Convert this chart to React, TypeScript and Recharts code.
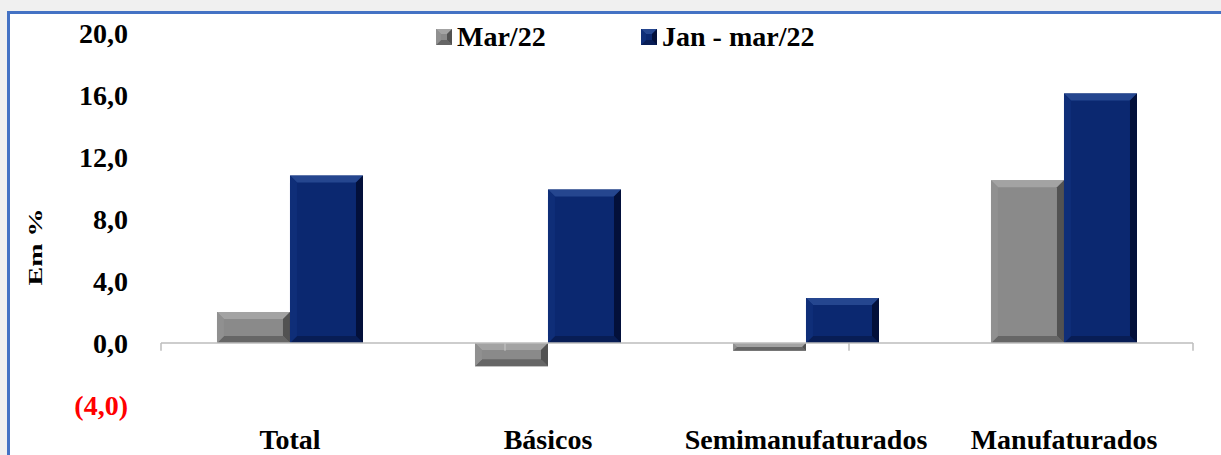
import { BarChart, Bar, XAxis, YAxis, Legend, ReferenceLine } from 'recharts';

const categories = ['Total', 'Básicos', 'Semimanufaturados', 'Manufaturados'];
const mar22 = [2.0, -1.5, -0.5, 10.5];
const janMar22 = [10.8, 9.9, 2.9, 16.1];
const yTicks = [-4, 0, 4, 8, 12, 16, 20];
const boundaries = [0, 1, 2, 3, 4];

const seriesNames = ['Mar/22', 'Jan - mar/22'];

const data = categories.map((name, i) => ({ name, mar: mar22[i], jan: janMar22[i] }));

const FONT = "'Liberation Serif', 'Times New Roman', serif";

const palettes: Record<string, { face: string; top: string; left: string; right: string; bottom: string }> = {
  gray: { face: '#8a8a8a', top: '#a3a3a3', left: '#909090', right: '#525252', bottom: '#666666' },
  blue: { face: '#0b2870', top: '#25468f', left: '#0f2e78', right: '#03103a', bottom: '#081d55' },
};

function bevel(x: number, y: number, w: number, h: number, p: typeof palettes.gray, size = 7) {
  const top = Math.min(y, y + h);
  const hh = Math.abs(h);
  const bot = top + hh;
  const b = Math.max(0, Math.min(size, hh / 2, w / 2));
  return (
    <g>
      <rect x={x} y={top} width={w} height={hh} fill={p.face} />
      <polygon points={`${x},${top} ${x + w},${top} ${x + w - b},${top + b} ${x + b},${top + b}`} fill={p.top} />
      <polygon points={`${x},${bot} ${x + w},${bot} ${x + w - b},${bot - b} ${x + b},${bot - b}`} fill={p.bottom} />
      <polygon points={`${x},${top} ${x + b},${top + b} ${x + b},${bot - b} ${x},${bot}`} fill={p.left} />
      <polygon points={`${x + w},${top} ${x + w - b},${top + b} ${x + w - b},${bot - b} ${x + w},${bot}`} fill={p.right} />
    </g>
  );
}

const makeShape = (key: string) => (props: any) => {
  const { x, y, width, height } = props;
  if (width == null || height == null) return null;
  return bevel(x, y, width, height, palettes[key]);
};

const fmt = (v: number) => {
  const s = Math.abs(v).toFixed(1).replace('.', ',');
  return v < 0 ? `(${s})` : s;
};

const YTick = (props: any) => {
  const { x, y, payload } = props;
  const v = payload.value as number;
  return (
    <text x={x} y={y} dy="0.355em" textAnchor="end" fontFamily={FONT} fontWeight="bold" fontSize={28}
      fill={v < 0 ? '#ff0000' : '#000'}>
      {fmt(v)}
    </text>
  );
};

const LegendContent = () => (
  <div style={{ display: 'flex', fontFamily: FONT, fontWeight: 'bold', fontSize: 28, lineHeight: '28px', color: '#000' }}>
    {seriesNames.map((n, i) => (
      <div key={n} style={{ display: 'flex', alignItems: 'center', width: i === 0 ? 205 : 'auto' }}>
        <svg width={16} height={16} style={{ marginRight: 5 }}>
          {bevel(0, 0, 16, 16, palettes[i === 0 ? 'gray' : 'blue'], 5)}
        </svg>
        <span>{n}</span>
      </div>
    ))}
  </div>
);

export default function App() {
  return (
    <div style={{ position: 'fixed', inset: 0, background: '#f0f0f0', overflow: 'hidden' }}>
      <div style={{ position: 'absolute', left: 7, top: 11, width: 1300, height: 500, background: '#fff',
        borderLeft: '3px solid #4472c4', borderTop: '3px solid #4472c4' }} />
      <div style={{ position: 'absolute', left: 0, top: 0 }}>
        <BarChart width={1221} height={455} data={data} margin={{ top: 33, right: 28, bottom: 0, left: 0 }}
          barCategoryGap="21.7%" barGap={0}>
          <XAxis dataKey="name" axisLine={false} tickLine={false} tickSize={0} tickMargin={24} height={50}
            interval={0}
            tick={{ fontFamily: FONT, fontWeight: 'bold', fontSize: 28, fill: '#000' }} />
          <XAxis xAxisId="b" type="number" domain={[0, 4]} ticks={boundaries} hide />
          <YAxis domain={[-4, 20]} ticks={yTicks} width={161} axisLine={false} tickLine={false}
            tickSize={0} tickMargin={33} tick={<YTick />} interval={0}
            label={{
              content: () => (
                <text x={0} y={0} transform="translate(42,247) rotate(-90)" textAnchor="middle"
                  fontFamily={FONT} fontWeight="bold" fontSize={18} textLength={77} lengthAdjust="spacingAndGlyphs">
                  Em %
                </text>
              ),
            }} />
          <Legend verticalAlign="middle" layout="horizontal" content={<LegendContent />}
            wrapperStyle={{ top: 23, left: 436, width: 'auto' }} />
          <Bar dataKey="mar" name={seriesNames[0]} fill="#8a8a8a" shape={makeShape('gray')} isAnimationActive={false} />
          <Bar dataKey="jan" name={seriesNames[1]} fill="#0b2870" shape={makeShape('blue')} isAnimationActive={false} />
          <ReferenceLine y={0} stroke="#bcbcbc" strokeWidth={1.5} />
          {boundaries.map((b) => (
            <ReferenceLine key={b} xAxisId="b" segment={[{ x: b, y: 0 }, { x: b, y: -0.5 }]} stroke="#bcbcbc" strokeWidth={1.5} />
          ))}
        </BarChart>
      </div>
    </div>
  );
}
